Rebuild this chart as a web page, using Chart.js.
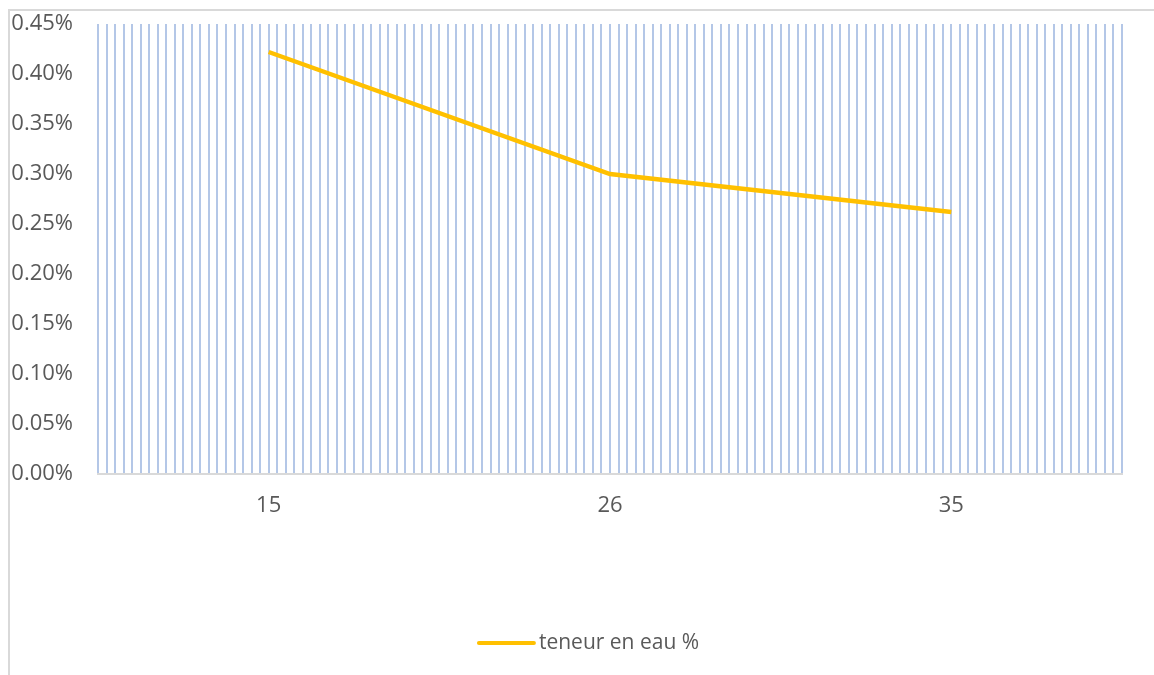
<!DOCTYPE html>
<html>
<head>
<meta charset="utf-8">
<script src="https://cdn.jsdelivr.net/npm/chart.js@4"></script>
<style>
html,body{margin:0;padding:0;background:#fff;}
#wrap{position:relative;width:1154px;height:675px;overflow:hidden;}
#frame{position:absolute;left:8px;top:9px;width:2000px;height:2000px;border-top:2px solid #d9d9d9;border-left:2px solid #d9d9d9;box-sizing:border-box;}
canvas{position:absolute;left:0;top:0;}
</style>
</head>
<body>
<div id="wrap">
<div id="frame"></div>
<canvas id="c" width="1154" height="675"></canvas>
</div>
<script>
const categories = ["15", "26", "35"];
const seriesName = "teneur en eau %";
const waterContent = [0.00422, 0.00300, 0.00262];
const yMin = 0, yMax = 0.0045, yStep = 0.0005;
const gridLineCount = 120;

const FAMILY = "'Open Sans', 'Liberation Sans', sans-serif";
const FONT = {family: FAMILY, size: 22};
const TEXT = '#595959';
const LINE_COLOR = '#ffc000';

const legendPlugin = {
  id: 'customLegend',
  afterDraw(chart) {
    const ctx = chart.ctx;
    const ds = chart.data.datasets[0];
    ctx.save();
    ctx.font = '21px ' + FAMILY;
    const tw = ctx.measureText(ds.label).width;
    const sampleW = 55, gap = 5;
    const total = sampleW + gap + tw;
    const cx = 589, cy = 643;
    const x0 = cx - total / 2;
    ctx.strokeStyle = ds.borderColor;
    ctx.lineWidth = 4;
    ctx.lineCap = 'round';
    ctx.beginPath();
    ctx.moveTo(x0, cy);
    ctx.lineTo(x0 + sampleW, cy);
    ctx.stroke();
    ctx.fillStyle = TEXT;
    ctx.textBaseline = 'middle';
    ctx.textAlign = 'left';
    ctx.fillText(ds.label, x0 + sampleW + gap, cy);
    ctx.restore();
  }
};

new Chart(document.getElementById('c'), {
  type: 'line',
  data: {
    labels: categories,
    datasets: [{
      label: seriesName,
      data: waterContent,
      borderColor: LINE_COLOR,
      backgroundColor: LINE_COLOR,
      borderWidth: 4.5,
      pointRadius: 0,
      pointHoverRadius: 0,
      tension: 0,
      fill: false,
      xAxisID: 'x',
      yAxisID: 'y'
    }]
  },
  plugins: [legendPlugin],
  options: {
    responsive: false,
    animation: false,
    events: [],
    layout: {padding: {left: 12, right: 32, top: 24, bottom: 91}},
    plugins: {
      tooltip: {enabled: false},
      legend: {display: false}
    },
    scales: {
      x: {
        type: 'category',
        offset: true,
        weight: 0,
        grid: {display: false, drawTicks: false},
        border: {display: true, color: '#d9d9d9', width: 2},
        ticks: {color: TEXT, font: FONT, padding: 19, maxRotation: 0},
        afterFit: s => { s.height = 110; }
      },
      xg: {
        type: 'linear',
        position: 'bottom',
        weight: 1,
        min: 0,
        max: gridLineCount,
        ticks: {display: false, stepSize: 1, maxTicksLimit: 1000},
        grid: {display: true, color: '#b4c7e7', lineWidth: 2, drawTicks: false},
        border: {display: false},
        afterFit: s => { s.height = 0; }
      },
      y: {
        min: yMin,
        max: yMax,
        grid: {display: true, drawOnChartArea: false, drawTicks: true, tickLength: 25, tickColor: 'rgba(0,0,0,0)'},
        border: {display: false},
        ticks: {
          stepSize: yStep,
          color: TEXT,
          font: FONT,
          padding: 0,
          callback: v => (v * 100).toFixed(2) + '%'
        },
        afterFit: s => { s.width = 86; }
      }
    }
  }
});
</script>
</body>
</html>
